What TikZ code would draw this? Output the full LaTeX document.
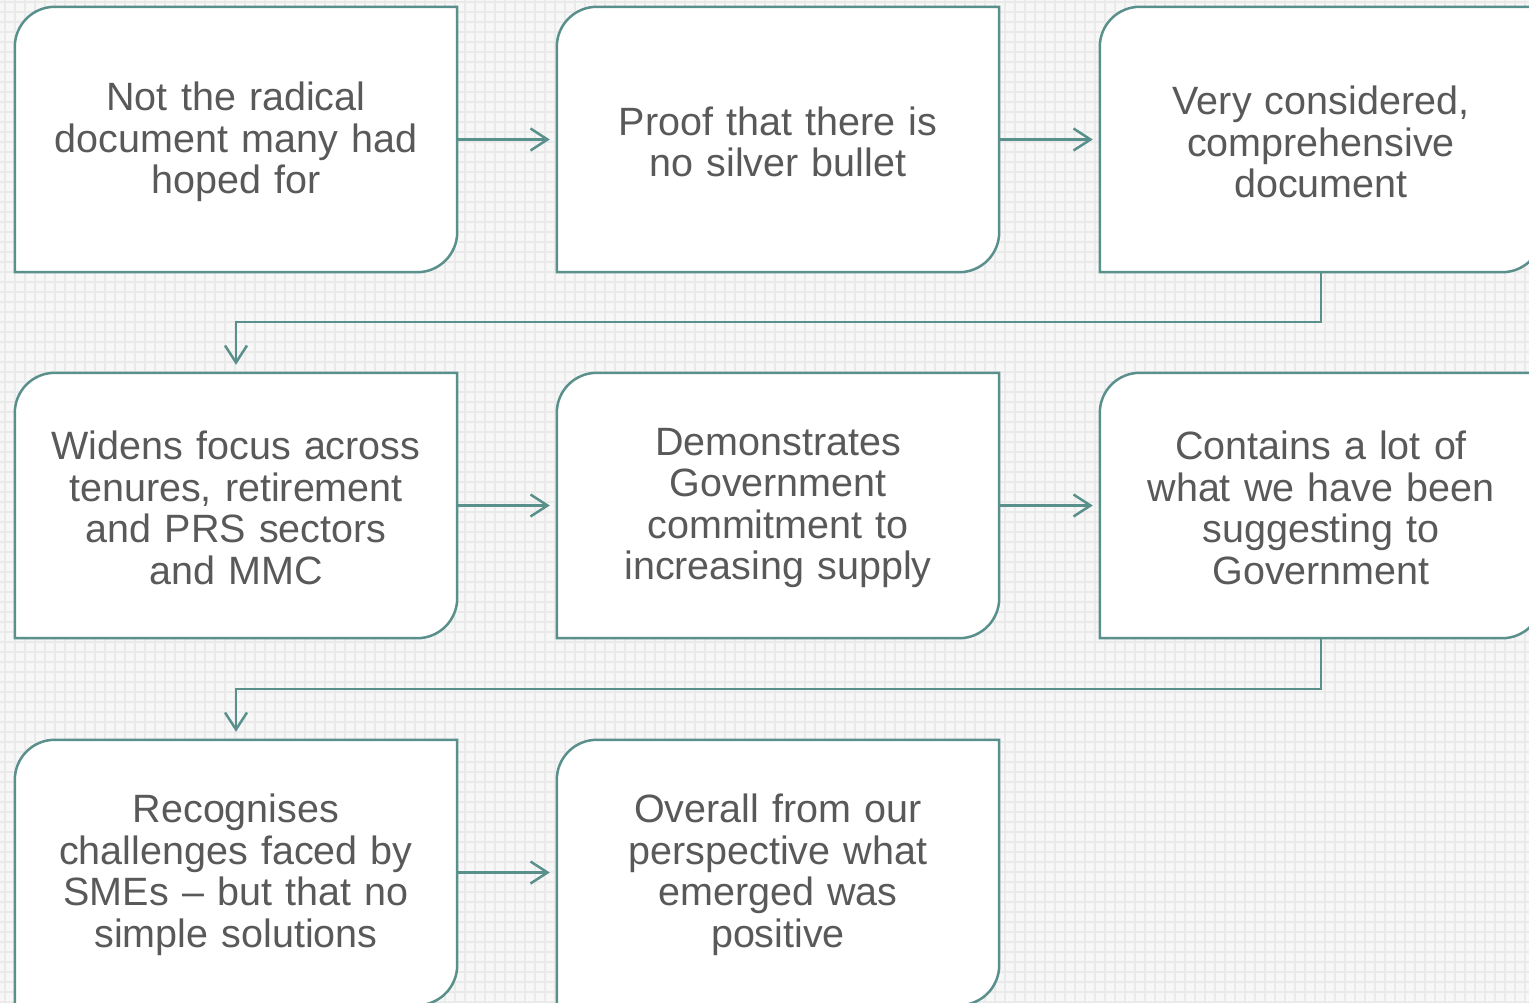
\documentclass[tikz,border=0pt]{standalone}
\usepackage{fontspec}
\setmainfont{Liberation Sans}
\usetikzlibrary{arrows.meta}
\definecolor{teal1}{HTML}{5A908C}
\definecolor{txt}{HTML}{595959}
\definecolor{bgc}{HTML}{F7F7F7}
\definecolor{gridc}{HTML}{EAEAEA}
\tikzset{
  flowbox/.style={minimum width=442pt, minimum height=265pt, inner sep=0pt,
    text width=440pt, align=center, text=txt,
    font=\fontsize{39.5}{41.5}\selectfont},
  boxtext/.style={flowbox, yshift=-2.5pt},
  boxline/.style={draw=teal1, line width=2.5pt, fill=white},
  conn/.style={draw=teal1, line width=2.5pt, -{Straight Barb[length=17pt,width=22pt,line width=2.5pt]}},
  gridline/.style={draw=gridc, line width=1.5pt}
}
\newcommand{\boxoutline}[1]{%
  \path[boxline] (#1.south west) -- ([yshift=-40pt]#1.north west)
    arc[start angle=180, end angle=90, radius=40pt]
    -- (#1.north east) -- ([yshift=40pt]#1.south east)
    arc[start angle=0, end angle=-90, radius=40pt] -- cycle;}
\begin{document}
\begin{tikzpicture}[x=1pt,y=1pt]
\useasboundingbox (0,0) rectangle (1529,-1002);
\fill[bgc] (0,0) rectangle (1529,-1002);
\begin{scope}[xshift=5pt, yshift=-2pt]
\draw[gridline, step=10pt] (-10,10) grid (1530,-1010);
\end{scope}
% box outlines drawn first, then texts on top
\path (236,-139.5) node[flowbox] (b1) {};
\path (778,-139.5) node[flowbox] (b2) {};
\path (1321,-139.5) node[flowbox] (b3) {};
\path (236,-505.5) node[flowbox] (b4) {};
\path (778,-505.5) node[flowbox] (b5) {};
\path (1321,-505.5) node[flowbox] (b6) {};
\path (236,-872.5) node[flowbox] (b7) {};
\path (778,-872.5) node[flowbox] (b8) {};
\boxoutline{b1}\boxoutline{b2}\boxoutline{b3}
\boxoutline{b4}\boxoutline{b5}\boxoutline{b6}
\boxoutline{b7}\boxoutline{b8}
\node[boxtext] (t1) at (b1) {Not the radical\\document many had\\hoped for};
\node[boxtext] (t2) at (b2) {Proof that there is\\no silver bullet};
\node[boxtext] (t3) at (b3) {Very considered,\\comprehensive\\document};
\node[boxtext] (t4) at (b4) {Widens focus across\\tenures, retirement\\and PRS sectors\\and MMC};
\node[boxtext] (t5) at (b5) {Demonstrates\\Government\\commitment to\\increasing supply};
\node[boxtext] (t6) at (b6) {Contains a lot of\\what we have been\\suggesting to\\Government};
\node[boxtext] (t7) at (b7) {Recognises\\challenges faced by\\SMEs – but that no\\simple solutions};
\node[boxtext] (t8) at (b8) {Overall from our\\perspective what\\emerged was\\positive};
% connectors
\draw[conn] (b1.east) -- ([xshift=-7pt]b2.west);
\draw[conn] (b2.east) -- ([xshift=-7pt]b3.west);
\draw[conn] (b3.south) -- ++(0,-50) -| ([yshift=8pt]b4.north);
\draw[conn] (b4.east) -- ([xshift=-7pt]b5.west);
\draw[conn] (b5.east) -- ([xshift=-7pt]b6.west);
\draw[conn] (b6.south) -- ++(0,-51) -| ([yshift=8pt]b7.north);
\draw[conn] (b7.east) -- ([xshift=-7pt]b8.west);
\end{tikzpicture}
\end{document}
